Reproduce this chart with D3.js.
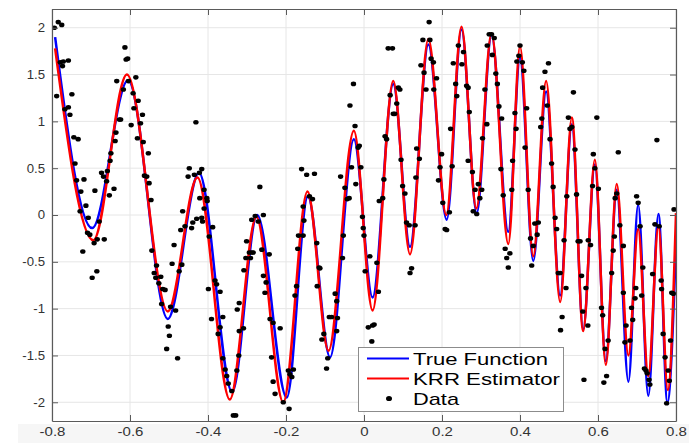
<!DOCTYPE html>
<html>
<head>
<meta charset="utf-8">
<script src="https://cdn.jsdelivr.net/npm/d3@7"></script>
<style>
  body { margin: 0; background: #fff; }
  text { font-family: "Liberation Sans", Arial, Helvetica, sans-serif; }
</style>
</head>
<body>
<div id="chart-area"></div>
<script>
// turning points of the true function (blue)
let trueX = [-0.792, -0.697, -0.605, -0.503, -0.423, -0.338, -0.274, -0.198, -0.144, -0.087, -0.026, 0.022,
  0.075, 0.118, 0.165, 0.212, 0.250, 0.289, 0.327, 0.370, 0.400, 0.434, 0.467, 0.503, 0.533, 0.562,
  0.592, 0.620, 0.648, 0.678, 0.703, 0.729, 0.755, 0.778, 0.800];
let trueY = [1.90, -0.14, 1.44, -1.11, 0.45, -1.89, 0.00, -1.95, 0.20, -1.52, 0.81, -0.88,
  1.40, -0.34, 1.82, -0.05, 1.98, 0.02, 1.92, -0.18, 1.68, -0.49, 1.32, -0.86, 0.97, -1.22,
  0.54, -1.56, 0.27, -1.78, 0.11, -1.93, 0.01, -2.00, -0.30];

// turning points of the KRR estimate (red)
let krrX = [-0.792, -0.694, -0.608, -0.503, -0.427, -0.344, -0.276, -0.207, -0.145, -0.091, -0.026, 0.022,
  0.075, 0.118, 0.165, 0.211, 0.250, 0.288, 0.327, 0.370, 0.400, 0.434, 0.467, 0.503, 0.533, 0.562,
  0.592, 0.620, 0.648, 0.678, 0.703, 0.729, 0.755, 0.779, 0.800];
let krrY = [1.78, -0.27, 1.50, -1.03, 0.40, -1.97, -0.02, -2.00, 0.25, -1.45, 0.90, -1.02,
  1.43, -0.42, 1.88, 0.00, 2.01, 0.07, 1.94, -0.31, 1.80, -0.44, 1.43, -0.93, 1.04, -1.24,
  0.59, -1.60, 0.33, -1.50, -0.15, -1.72, -0.12, -1.87, 0.02];

// noisy samples [x, y]
let dataXY = [
  [-0.794, 2.00], [-0.784, 2.06], [-0.775, 2.03], [-0.788, 1.27], [-0.779, 1.63], [-0.771, 1.64], [-0.758, 1.65],
  [-0.773, 1.59], [-0.767, 1.13], [-0.758, 1.15], [-0.749, 1.29], [-0.754, 1.07], [-0.744, 0.83], [-0.733, 0.81],
  [-0.741, 0.55], [-0.737, 0.37], [-0.718, 0.38], [-0.726, 0.25], [-0.713, 0.10], [-0.728, 0.04], [-0.707, -0.03],
  [-0.690, 0.26], [-0.673, 0.45], [-0.668, 0.41], [-0.660, 0.36], [-0.658, 0.47], [-0.653, 0.21], [-0.649, 0.66],
  [-0.641, 0.28], [-0.651, 0.58], [-0.638, 0.79], [-0.636, 0.88], [-0.634, 1.43], [-0.627, 1.02], [-0.624, 1.02],
  [-0.617, 1.34], [-0.613, 1.79], [-0.610, 1.66], [-0.606, 1.67], [-0.604, 1.43], [-0.597, 0.96], [-0.592, 1.30],
  [-0.590, 1.14], [-0.585, 1.47], [-0.579, 1.22], [-0.581, 0.82], [-0.573, 0.98], [-0.568, 1.07], [-0.566, 0.78],
  [-0.563, 0.42], [-0.557, 0.41], [-0.553, 0.66], [-0.551, 0.34], [-0.546, 0.16], [-0.465, 0.04], [-0.451, 0.41],
  [-0.448, 0.50], [-0.431, 0.99], [-0.435, 0.43], [-0.422, 0.45], [-0.416, 0.49], [-0.421, 0.18], [-0.410, 0.27],
  [-0.403, 0.18], [-0.402, 0.15], [-0.410, 0.07], [-0.429, -0.04], [-0.416, -0.03], [-0.721, -0.39], [-0.709, -0.19],
  [-0.703, -0.21], [-0.692, -0.30], [-0.679, -0.07], [-0.684, -0.26], [-0.666, -0.26], [-0.697, -0.67], [-0.685, -0.60],
  [-0.544, -0.38], [-0.538, -0.62], [-0.532, -0.54], [-0.534, -0.67], [-0.526, -0.73], [-0.521, -0.66], [-0.516, -0.79],
  [-0.510, -0.80], [-0.519, -0.95], [-0.502, -1.19], [-0.499, -1.29], [-0.506, -1.43], [-0.496, -0.98], [-0.492, -0.52],
  [-0.487, -0.32], [-0.483, -1.02], [-0.478, -1.53], [-0.474, -0.60], [-0.467, -0.53], [-0.470, -0.16], [-0.459, -0.12],
  [-0.442, -0.14], [-0.439, -0.08], [-0.414, -0.07], [-0.388, -0.13], [-0.397, -0.23], [-0.399, -0.79], [-0.391, -1.11],
  [-0.382, -0.70], [-0.378, -0.74], [-0.369, -0.82], [-0.374, -1.27], [-0.362, -1.09], [-0.369, -1.20], [-0.362, -1.53],
  [-0.356, -1.65], [-0.352, -1.72], [-0.348, -1.80], [-0.339, -1.88], [-0.335, -2.14], [-0.329, -2.14], [-0.326, -1.66],
  [-0.325, -1.01], [-0.320, -0.94], [-0.321, -1.50], [-0.267, 0.30], [-0.279, -0.01], [-0.288, -0.05], [-0.258, 0.00],
  [-0.160, 0.49], [-0.147, 0.43], [-0.127, 0.44], [-0.156, 0.09], [-0.140, 0.20], [-0.132, 0.17], [-0.060, 0.41],
  [-0.049, 0.29], [-0.043, 0.17], [-0.038, 0.18], [-0.036, 1.17], [-0.032, 0.51], [-0.027, 1.40], [-0.023, 0.95],
  [-0.015, 0.72], [-0.012, 0.74], [-0.021, 0.33], [-0.008, 0.51], [-0.004, -0.02], [0.039, 0.15], [0.048, 0.18],
  [0.051, 0.38], [0.054, 0.84], [0.058, 0.81], [0.062, 1.78], [0.073, 1.78], [0.067, 1.28], [0.075, 1.08],
  [0.079, 1.08], [0.084, 1.19], [0.088, 1.36], [0.092, 1.34], [0.095, 0.59], [0.099, 0.31], [0.105, 0.23],
  [0.135, 0.71], [0.133, 0.40], [0.142, 0.60], [0.146, 1.60], [0.151, 1.87], [0.154, 1.52], [0.159, 1.34],
  [0.167, 2.06], [0.169, 1.87], [0.172, 1.67], [0.178, 1.63], [0.179, 1.34], [0.186, 1.46], [0.191, 0.37],
  [0.195, 0.51], [0.199, 0.65], [0.202, 0.13], [0.219, 0.03], [0.222, 0.92], [0.226, 0.52], [0.229, 1.62],
  [0.238, 1.27], [0.235, 1.40], [0.242, 1.81], [0.255, 1.74], [0.267, 0.58], [-0.320, -1.24], [-0.309, -1.21],
  [-0.308, -0.59], [-0.303, -0.46], [-0.301, -0.28], [-0.294, -0.40], [-0.288, -0.40], [-0.291, -0.46], [-0.284, -0.40],
  [-0.271, -0.07], [-0.262, -0.37], [-0.258, -0.65], [-0.251, -0.72], [-0.254, -0.83], [-0.243, -0.42], [-0.241, -1.11],
  [-0.233, -1.15], [-0.215, -1.21], [-0.237, -1.52], [-0.233, -1.78], [-0.228, -1.91], [-0.207, -2.00], [-0.192, -2.07],
  [-0.194, -1.66], [-0.190, -1.70], [-0.185, -1.73], [-0.181, -1.65], [-0.177, -0.86], [-0.173, -0.76], [-0.170, -0.36],
  [-0.168, -0.22], [-0.156, -0.22], [-0.154, -0.06], [-0.121, -0.30], [-0.120, -0.76], [-0.115, -0.56], [-0.113, -0.57],
  [-0.108, -1.33], [-0.103, -1.27], [-0.096, -1.64], [-0.093, -1.53], [-0.089, -1.09], [-0.083, -1.09], [-0.074, -0.84],
  [-0.070, -0.92], [-0.068, -1.10], [-0.070, -1.24], [-0.053, -0.22], [-0.055, -0.46], [-0.002, -0.14], [0.000, -0.22],
  [0.003, -0.60], [0.015, -0.44], [0.011, -1.20], [0.020, -1.35], [0.022, -1.18], [0.026, -1.17], [0.033, -0.51],
  [0.037, -0.82], [0.109, -0.08], [0.116, -0.11], [0.118, -0.62], [0.122, -0.57], [0.131, -0.11], [0.208, -0.15],
  [0.212, -0.16], [0.251, 1.61], [0.263, 1.38], [0.267, 1.36], [0.270, 1.10], [0.278, 0.46], [0.285, 0.27],
  [0.293, 0.33], [0.297, 0.18], [0.302, 0.27], [0.280, 0.04], [0.289, 0.01], [0.304, 0.82], [0.310, 1.34],
  [0.315, 0.97], [0.316, 1.81], [0.321, 1.93], [0.327, 1.93], [0.334, 1.89], [0.329, 1.71], [0.338, 1.51],
  [0.342, 1.40], [0.346, 1.16], [0.353, 1.03], [0.351, 0.49], [0.357, 0.21], [0.379, 0.27], [0.381, 0.58],
  [0.387, 1.09], [0.390, 0.92], [0.392, 1.64], [0.397, 1.70], [0.400, 1.81], [0.406, 1.63], [0.410, 1.54],
  [0.417, 1.14], [0.413, 0.72], [0.421, 0.27], [0.453, 0.94], [0.456, 1.03], [0.458, 1.36], [0.464, 1.53],
  [0.473, 1.62], [0.470, 1.17], [0.477, 0.81], [0.481, 0.55], [0.485, 0.30], [0.490, -0.03], [0.520, 0.20],
  [0.524, 1.04], [0.528, 0.92], [0.533, 0.94], [0.537, 1.31], [0.541, 0.70], [0.545, 0.22], [0.588, 0.65],
  [0.592, 0.50], [0.586, 0.31], [0.597, 1.04], [0.601, 0.28], [0.644, 0.18], [0.648, 0.23], [0.652, 0.67],
  [0.699, 0.20], [0.703, 0.13], [0.751, 0.80], [0.795, 0.06], [0.362, -0.36], [0.366, -0.46], [0.374, -0.41],
  [0.370, -0.56], [0.427, -0.25], [0.430, -0.54], [0.434, -0.33], [0.444, -0.21], [0.438, -0.09], [0.447, -0.08],
  [0.494, -0.15], [0.513, -0.27], [0.498, -0.62], [0.503, -0.62], [0.518, -0.78], [0.508, -1.09], [0.504, -1.23],
  [0.549, -0.28], [0.554, -0.28], [0.558, -0.65], [0.569, -0.78], [0.561, -1.03], [0.574, -1.18], [0.564, -1.76],
  [0.575, -0.27], [0.581, -0.32], [0.609, -0.99], [0.612, -1.07], [0.618, -1.43], [0.626, -1.34], [0.622, -1.72],
  [0.615, -1.79], [0.635, -0.62], [0.639, -0.38], [0.642, -0.23], [0.656, -0.11], [0.665, -0.33], [0.665, -0.83],
  [0.672, -1.18], [0.669, -1.36], [0.682, -1.34], [0.686, -0.99], [0.689, -1.12], [0.695, -0.89], [0.697, -0.78],
  [0.708, -0.12], [0.715, -0.56], [0.712, -0.86], [0.719, -1.64], [0.723, -1.66], [0.726, -1.69], [0.731, -1.76],
  [0.733, -1.81], [0.740, -0.63], [0.746, -0.10], [0.757, -0.12], [0.762, -0.70], [0.763, -0.79], [0.767, -1.27],
  [0.772, -1.52], [0.776, -2.01], [0.780, -1.66], [0.783, -1.77], [0.786, -1.34], [0.789, -0.83], [0.793, -0.84]
];

let xTicks = [-0.8, -0.6, -0.4, -0.2, 0, 0.2, 0.4, 0.6, 0.8];
let xTickLabels = ["-0.8", "-0.6", "-0.4", "-0.2", "0", "0.2", "0.4", "0.6", "0.8"];
let yTicks = [-2, -1.5, -1, -0.5, 0, 0.5, 1, 1.5, 2];
let yTickLabels = ["-2", "-1.5", "-1", "-0.5", "0", "0.5", "1", "1.5", "2"];
let legendLabels = ["True Function", "KRR Estimator", "Data"];

let width = 689, height = 443;
let plotLeft = 52, plotRight = 676, plotTop = 9, plotBottom = 421;

let svg = d3.select("#chart-area").append("svg").attr("width", width).attr("height", height);

// faint band under the axis, as in the screenshot
svg.append("rect").attr("x", 18).attr("y", 424).attr("width", width - 18).attr("height", height - 424).attr("fill", "#f6f6f6");

let x = d3.scaleLinear().domain([-0.8, 0.8]).range([plotLeft, plotRight]);
let y = d3.scaleLinear().domain([-2.2, 2.2]).range([plotBottom, plotTop]);

svg.append("rect").attr("x", plotLeft).attr("y", plotTop)
  .attr("width", plotRight - plotLeft).attr("height", plotBottom - plotTop).attr("fill", "#fff");

// grid
svg.append("g").selectAll("line").data(xTicks).enter().append("line")
  .attr("x1", d => x(d)).attr("x2", d => x(d)).attr("y1", plotTop).attr("y2", plotBottom)
  .attr("stroke", "#e6e6e6").attr("stroke-width", 1);
svg.append("g").selectAll("line").data(yTicks).enter().append("line")
  .attr("x1", plotLeft).attr("x2", plotRight).attr("y1", d => y(d)).attr("y2", d => y(d))
  .attr("stroke", "#e6e6e6").attr("stroke-width", 1);

svg.append("clipPath").attr("id", "clip").append("rect")
  .attr("x", plotLeft).attr("y", plotTop).attr("width", plotRight - plotLeft).attr("height", plotBottom - plotTop);

let plot = svg.append("g").attr("clip-path", "url(#clip)");

let line = d3.line().x(d => x(d[0])).y(d => y(d[1])).curve(d3.curveMonotoneX);

plot.append("path").datum(d3.zip(trueX, trueY)).attr("d", line)
  .attr("fill", "none").attr("stroke", "#0000ff").attr("stroke-width", 2.5);
plot.append("path").datum(d3.zip(krrX, krrY)).attr("d", line)
  .attr("fill", "none").attr("stroke", "#ff0000").attr("stroke-width", 2.5);

plot.selectAll("ellipse").data(dataXY).enter().append("ellipse")
  .attr("cx", d => x(d[0])).attr("cy", d => y(d[1]))
  .attr("rx", 2.7).attr("ry", 2.3).attr("fill", "#000");

// axes (ticks point inwards, box on all sides)
let fmtX = d => xTickLabels[xTicks.indexOf(d)];
let fmtY = d => yTickLabels[yTicks.indexOf(d)];

let axisStyle = g => {
  g.select(".domain").attr("stroke", "#5a5a5a").attr("stroke-width", 1.2);
  g.selectAll(".tick line").attr("stroke", "#5a5a5a");
  g.selectAll(".tick text").attr("fill", "#333").attr("font-size", 12)
    .attr("font-family", "'Liberation Sans', Arial, sans-serif");
};

let xAxis = svg.append("g").attr("transform", `translate(0,${plotBottom})`)
  .call(d3.axisBottom(x).tickValues(xTicks).tickFormat(fmtX).tickSizeInner(-6).tickSizeOuter(0).tickPadding(6))
  .call(axisStyle);
svg.append("g").attr("transform", `translate(0,${plotTop})`)
  .call(d3.axisTop(x).tickValues(xTicks).tickFormat("").tickSizeInner(-6).tickSizeOuter(0))
  .call(axisStyle);
let yAxis = svg.append("g").attr("transform", `translate(${plotLeft},0)`)
  .call(d3.axisLeft(y).tickValues(yTicks).tickFormat(fmtY).tickSizeInner(-6).tickSizeOuter(0).tickPadding(7))
  .call(axisStyle);
svg.append("g").attr("transform", `translate(${plotRight},0)`)
  .call(d3.axisRight(y).tickValues(yTicks).tickFormat("").tickSizeInner(-6).tickSizeOuter(0))
  .call(axisStyle);

// the screenshot is stretched sideways a little
let stretch = (sel, k) => sel.selectAll(".tick text").each(function() {
  let w = this.getComputedTextLength();
  if (w > 0) d3.select(this).attr("textLength", w * k).attr("lengthAdjust", "spacingAndGlyphs");
});
stretch(xAxis, 1.25);
stretch(yAxis, 1.1);

// legend
let legend = svg.append("g");
legend.append("rect").attr("x", 358.5).attr("y", 347.5).attr("width", 205).attr("height", 64)
  .attr("fill", "#fff").attr("stroke", "#8c8c8c").attr("stroke-width", 1);

let rowY = [358.5, 378.5, 398.5];
let textLen = [135, 147, 46];
legend.append("line").attr("x1", 367).attr("x2", 409).attr("y1", rowY[0]).attr("y2", rowY[0])
  .attr("stroke", "#0000ff").attr("stroke-width", 2.2);
legend.append("line").attr("x1", 367).attr("x2", 409).attr("y1", rowY[1]).attr("y2", rowY[1])
  .attr("stroke", "#ff0000").attr("stroke-width", 2.2);
legend.append("ellipse").attr("cx", 389).attr("cy", rowY[2]).attr("rx", 3).attr("ry", 2.6).attr("fill", "#000");

legend.selectAll("text").data(legendLabels).enter().append("text")
  .attr("x", 413).attr("y", (d, i) => rowY[i] + 6.5)
  .attr("font-size", 17).attr("fill", "#000")
  .attr("textLength", (d, i) => textLen[i]).attr("lengthAdjust", "spacingAndGlyphs")
  .text(d => d);
</script>
</body>
</html>
